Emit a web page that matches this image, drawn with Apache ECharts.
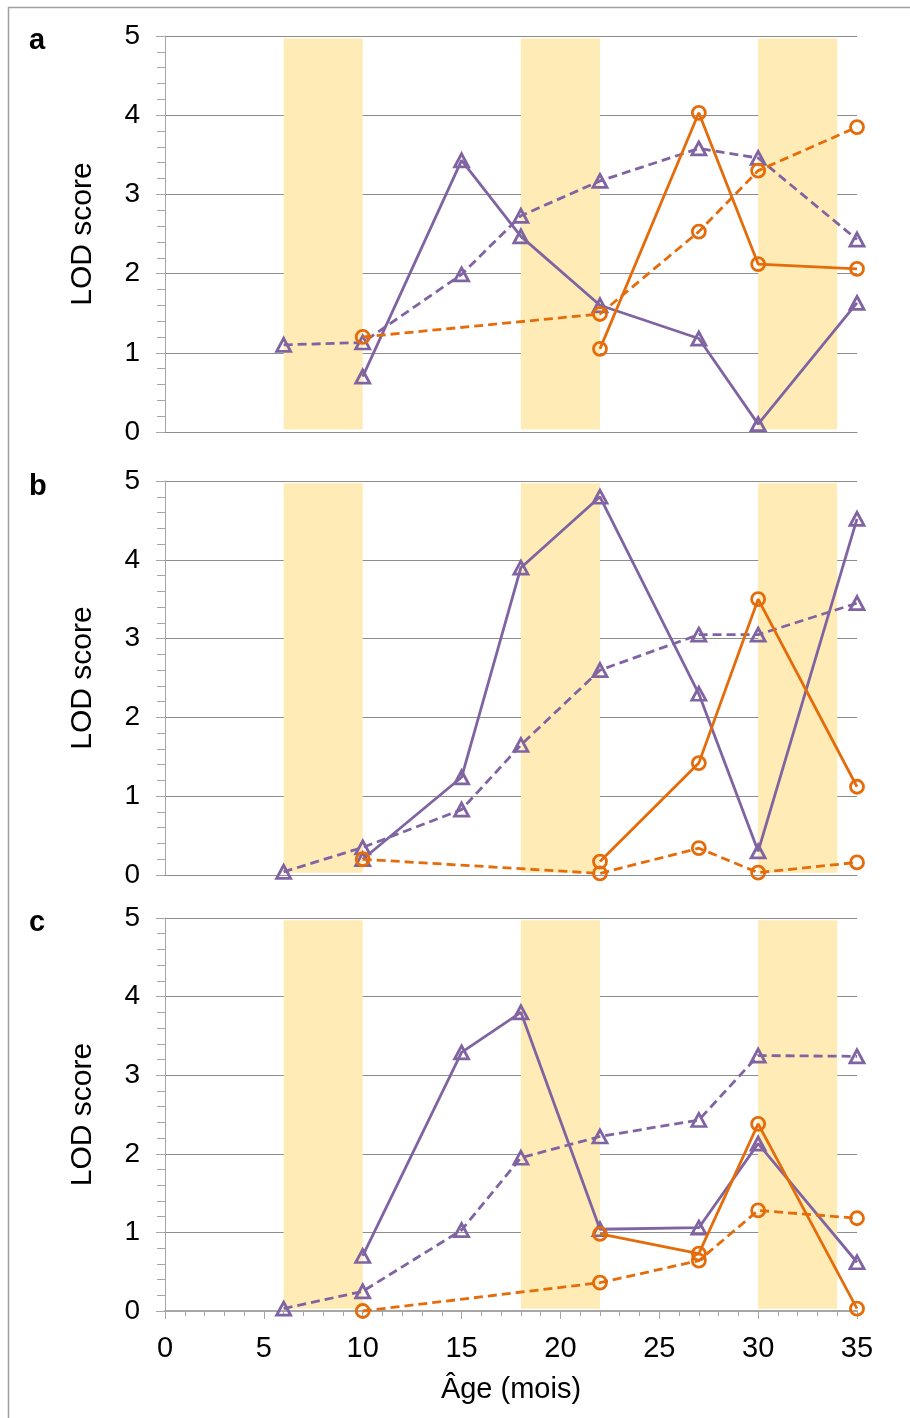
<!DOCTYPE html>
<html>
<head>
<meta charset="utf-8">
<script src="https://cdn.jsdelivr.net/npm/echarts@6/dist/echarts.min.js"></script>
<style>
html,body{margin:0;padding:0;background:#fff;}
#chart{width:910px;height:1418px;}
</style>
</head>
<body>
<div id="chart"></div>
<script>
// ---- data ----
const ages = [6, 10, 15, 18, 22, 27, 30, 35];
const panelLetters = ['a', 'b', 'c'];
const bands = [[6, 10], [18, 22], [30, 34]];
const yTicks = [0, 1, 2, 3, 4, 5];
const xTicks = [0, 5, 10, 15, 20, 25, 30, 35];

// panel a
const purpleSolidA = [null, 0.70, 3.43, 2.47, 1.60, 1.18, 0.10, 1.63];
const purpleDashA  = [1.10, 1.13, 1.99, 2.73, 3.17, 3.58, 3.46, 2.43];
const orangeSolidA = [null, null, null, null, 1.05, 4.03, 2.12, 2.06];
const orangeDashA  = [null, 1.20, null, null, 1.49, 2.53, 3.30, 3.85];
// panel b
const purpleSolidB = [null, 0.20, 1.24, 3.90, 4.80, 2.30, 0.30, 4.52];
const purpleDashB  = [0.04, 0.35, 0.83, 1.65, 2.60, 3.05, 3.05, 3.45];
const orangeSolidB = [null, null, null, null, 0.17, 1.42, 3.50, 1.12];
const orangeDashB  = [null, 0.20, null, null, 0.02, 0.34, 0.03, 0.16];
// panel c
const purpleSolidC = [null, 0.70, 3.29, 3.80, 1.04, 1.06, 2.13, 0.62];
const purpleDashC  = [0.03, 0.25, 1.03, 1.95, 2.22, 2.43, 3.25, 3.24];
const orangeSolidC = [null, null, null, null, 0.98, 0.73, 2.38, 0.03];
const orangeDashC  = [null, 0.00, null, null, 0.36, 0.64, 1.28, 1.18];

const panels = [
  [purpleDashA, purpleSolidA, orangeDashA, orangeSolidA],
  [purpleDashB, purpleSolidB, orangeDashB, orangeSolidB],
  [purpleDashC, purpleSolidC, orangeDashC, orangeSolidC]
];

// ---- styles ----
const PURPLE = '#8064A2';
const ORANGE = '#E46C0A';
const BAND = '#FFEBB5';
const GRID = '#8C8C8C';
const AXIS = '#A6A6A6';
const FONT = '"Liberation Sans", Arial, sans-serif';

const gridBoxes = [
  {top: 36, height: 396},
  {top: 481, height: 394},
  {top: 918, height: 393}
];

function pairs(vals) {
  const out = [];
  vals.forEach((v, i) => { if (v !== null) out.push([ages[i], v]); });
  return out;
}

const grid = [], xAxis = [], yAxis = [], series = [];
gridBoxes.forEach((g, p) => {
  grid.push({left: 165, width: 692, top: g.top, height: g.height, containLabel: false});
  const last = p === 2;
  xAxis.push({
    type: 'value', gridIndex: p, min: 0, max: 35, interval: 5,
    axisLine: {show: true, lineStyle: {color: last ? AXIS : GRID, width: last ? 2 : 1}},
    axisTick: {show: last, inside: false, length: 8, lineStyle: {color: AXIS, width: 1}},
    minorTick: {show: last, splitNumber: 5, length: 5, lineStyle: {color: AXIS, width: 1}},
    axisLabel: {show: last, fontSize: 29, fontFamily: FONT, color: '#000', margin: 23,
      formatter: v => xTicks.includes(v) ? String(v) : ''},
    splitLine: {show: false},
    name: last ? 'Âge (mois)' : '', nameLocation: 'middle', nameGap: 64,
    nameTextStyle: {fontSize: 29, fontFamily: FONT, color: '#000'}
  });
  yAxis.push({
    type: 'value', gridIndex: p, min: 0, max: 5, interval: 1,
    axisLine: {show: true, lineStyle: {color: AXIS, width: 1}},
    axisTick: {show: true, inside: false, length: 9, lineStyle: {color: AXIS}},
    minorTick: {show: true, splitNumber: 5, length: 8, lineStyle: {color: AXIS}},
    axisLabel: {fontSize: 28, fontFamily: FONT, color: '#000', margin: 25,
      formatter: v => yTicks.includes(v) ? String(v) : ''},
    splitLine: {show: true, lineStyle: {color: GRID, width: 1}},
    name: 'LOD score', nameLocation: 'middle', nameGap: 67, nameRotate: 90,
    nameTextStyle: {fontSize: 30, fontFamily: FONT, color: '#000'}
  });
  // bands
  series.push({
    type: 'line', xAxisIndex: p, yAxisIndex: p, data: [], silent: true,
    markArea: {
      silent: true,
      itemStyle: {color: BAND},
      data: bands.map(b => [{xAxis: b[0], yAxis: 0.03}, {xAxis: b[1], yAxis: 4.97}])
    },
    z: 1
  });
  const defs = [
    {color: PURPLE, dash: true, symbol: 'triangle'},
    {color: PURPLE, dash: false, symbol: 'triangle'},
    {color: ORANGE, dash: true, symbol: 'circle'},
    {color: ORANGE, dash: false, symbol: 'circle'}
  ];
  panels[p].forEach((vals, k) => {
    const d = defs[k];
    series.push({
      type: 'line', xAxisIndex: p, yAxisIndex: p,
      data: pairs(vals),
      symbol: d.symbol,
      symbolSize: d.symbol === 'circle' ? 13 : [14, 13],
      showSymbol: true,
      clip: false,
      lineStyle: {color: d.color, width: 2.8, type: d.dash ? [9, 5] : 'solid'},
      itemStyle: {color: 'rgba(255,255,255,0)', borderColor: d.color, borderWidth: 2.8},
      emphasis: {disabled: true},
      z: 3 + k
    });
  });
});

const graphic = [
  {type: 'line', shape: {x1: 8, y1: 7.5, x2: 910, y2: 7.5}, style: {stroke: '#A0A0A0', lineWidth: 1.5}},
  {type: 'line', shape: {x1: 8.5, y1: 7, x2: 8.5, y2: 1418}, style: {stroke: '#A0A0A0', lineWidth: 1.5}}
];
const letterY = [43, 489, 925];
panelLetters.forEach((l, i) => {
  graphic.push({type: 'text', left: 29, top: letterY[i] - 17,
    style: {text: l, font: 'bold 29px "Liberation Sans", Arial, sans-serif', fill: '#000'}});
});

const chart = echarts.init(document.getElementById('chart'), null, {renderer: 'canvas'});
chart.setOption({
  animation: false,
  backgroundColor: '#fff',
  grid, xAxis, yAxis, series, graphic
});
</script>
</body>
</html>
